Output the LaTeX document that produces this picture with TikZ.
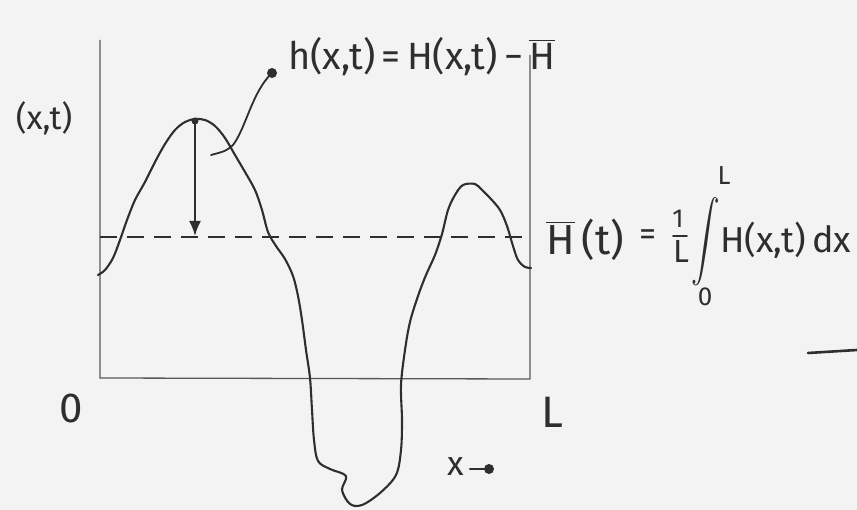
\documentclass[tikz,border=0pt]{standalone}
\usepackage{exscale}
\usepackage{fontspec}
\usepackage{graphicx}
\setsansfont{Fira Sans}
\usetikzlibrary{arrows.meta}
\definecolor{ink}{HTML}{2E2E2E}
\definecolor{paper}{HTML}{F3F3F3}
\begin{document}
\begin{tikzpicture}[x=1pt,y=-1pt,
  ink line/.style={draw=ink,line width=2.1pt,line cap=round,line join=round},
  axis line/.style={draw=ink!80,line width=1.3pt},
  meanline/.style={draw=ink,line width=2pt,dash pattern=on 17pt off 10pt},
  lbl/.style={text=ink,inner sep=0pt,font=\sffamily\fontsize{30}{34}\selectfont}]
\fill[paper] (0,0) rectangle (857,510);
\useasboundingbox (0,0) rectangle (857,510);
% frame
\coordinate (ytop) at (100,40);
\coordinate (orig) at (100,378);
\coordinate (xend) at (530,379);
\coordinate (rtop) at (530,55);
\draw[axis line] (ytop) -- (orig) -- (xend) -- (rtop);
% mean line
\coordinate (mA) at (100,237);
\coordinate (mB) at (530,237);
\draw[meanline] (mA) -- (mB);
% surface curve
\draw[ink line] plot[smooth,tension=0.55] coordinates {
 (98,275) (105,270) (113,258) (120,240) (127,220) (135,200) (145,182) (155,162)
 (165,144) (175,130) (185,122) (195,119) (205,120) (215,126) (225,138) (235,155)
 (245,172) (255,190) (262,210) (268,232) (276,246) (285,259) (293,276) (298,296)
 (302,320) (306,350) (310,378) (312,410) (314,440) (318,461) (330,469) (346,476)
 (342,490) (350,504) (362,505) (380,493) (396,475) (401,450) (402,420) (401,385)
 (405,350) (410,322) (418,296) (426,275) (435,255) (442,234) (448,210) (455,195)
 (463,185) (475,184) (482,190) (490,198) (500,210) (507,226) (513,246) (518,260)
 (525,267) (531,268)};
% deviation arrow
\coordinate (peak) at (195,121);
\coordinate (foot) at (195,236);
\fill[ink] (peak) circle (3.5pt);
\draw[ink line,-{Latex[length=15pt,width=12pt]}] (peak) -- (foot);
% leader to h label
\coordinate (hdot) at (272,73);
\coordinate (hook) at (211,155);
\fill[ink] (hdot) circle (5pt);
\draw[ink line,line width=1.8pt] (hdot) .. controls (252,92) and (246,128) .. (233,145)
  .. controls (226,151) .. (hook);
% labels
\node[lbl,font=\sffamily\fontsize{33}{36}\selectfont] (hxt) at (44,118) {(x,t)};
\node[lbl,anchor=base west,font=\sffamily\fontsize{38}{40}\selectfont] (hdef) at (288,70)
  {h(x,t)\,=\,H(x,t)\,−\,$\overline{\mbox{H}}$};
\node[lbl,anchor=west,font=\sffamily\fontsize{42}{44}\selectfont] (hmeanL) at (546,240)
  {$\overline{\mbox{H}}$\,(t)};
\node[lbl,font=\sffamily\fontsize{34}{36}\selectfont] (eq) at (648,238) {=};
% fraction 1/L
\node[lbl,font=\sffamily\fontsize{26}{28}\selectfont] (fnum) at (678,219) {1};
\node[lbl,font=\sffamily\fontsize{32}{34}\selectfont] (fden) at (681,251) {L};
\draw[ink line,line width=1.8pt] ([xshift=-8pt,yshift=4pt]fden.north) -- ([xshift=6pt,yshift=4pt]fden.north);
% integral
\node[lbl,font=\sffamily\fontsize{34}{36}\selectfont] (intg) at (706,242)
  {\scalebox{1.15}[1.6]{$\displaystyle\int$}};
\node[lbl,anchor=west,font=\sffamily\fontsize{36}{38}\selectfont] (hmeanR) at (720,240) {H(x,t)\,dx};
\node[lbl,font=\sffamily\fontsize{26}{28}\selectfont] (uplim) at (724,176) {L};
\node[lbl,font=\sffamily\fontsize{26}{28}\selectfont] (lolim) at (705,297) {0};
\node[lbl,font=\sffamily\fontsize{42}{44}\selectfont] (zero) at (71,408) {0};
\node[lbl,font=\sffamily\fontsize{44}{46}\selectfont] (ell) at (552,412) {L};
\node[lbl,font=\sffamily\fontsize{34}{36}\selectfont] (xlab) at (456,467) {x};
\coordinate (xa) at (470,469);
\coordinate (xb) at (489,469);
\draw[ink line] (xa) -- (xb);
\fill[ink] (xb) circle (5pt);
% stroke fragment at right edge
\coordinate (fa) at (808,353);
\coordinate (fb) at (857,350);
\draw[ink line,line width=2.6pt] (fa) -- (fb);
\end{tikzpicture}
\end{document}
